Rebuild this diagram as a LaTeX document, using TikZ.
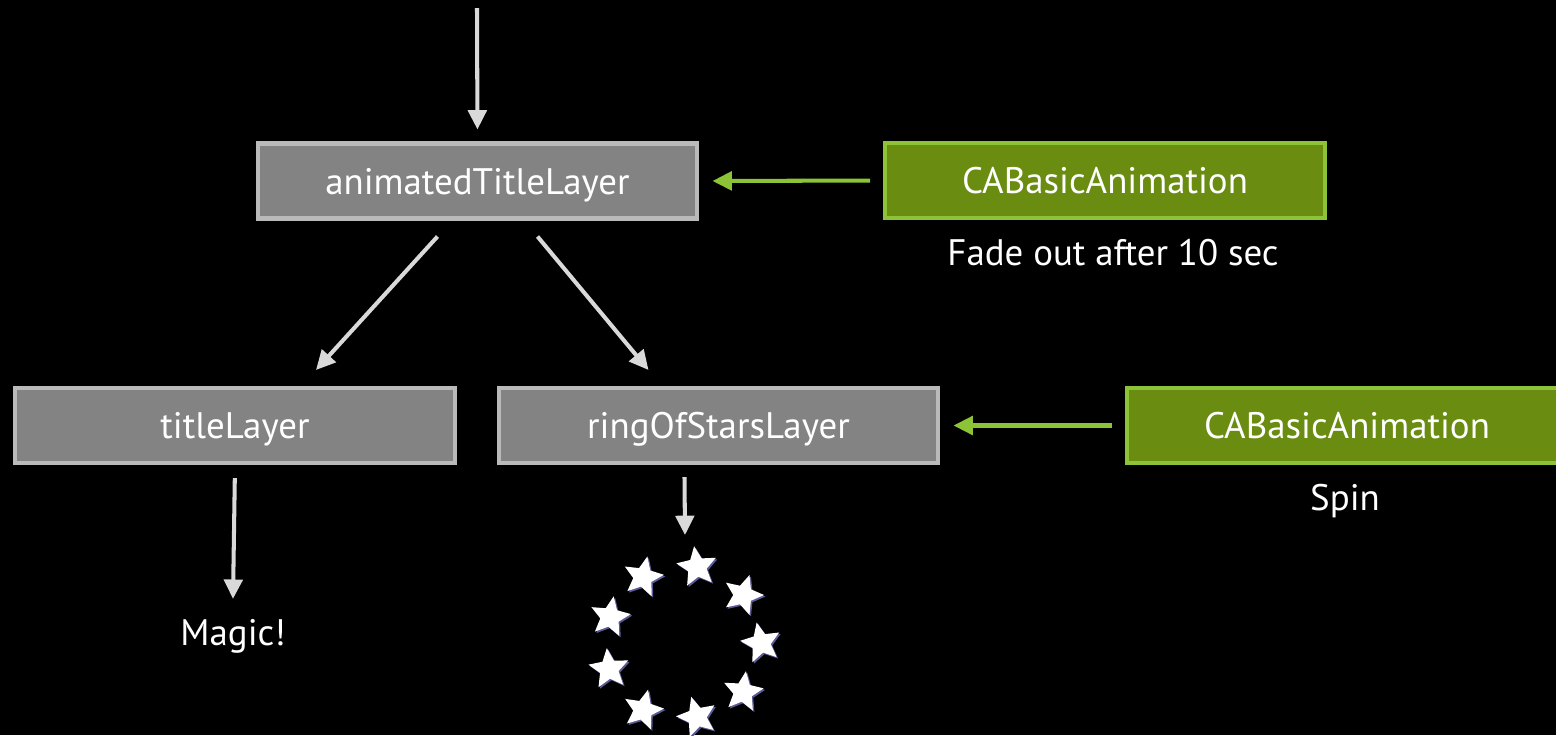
\documentclass[tikz,border=0pt]{standalone}
\usepackage{fontspec}
\setmainfont{PT Sans}
\usetikzlibrary{arrows.meta,calc,shapes.geometric}
\definecolor{layergray}{RGB}{131,131,131}
\definecolor{layeredge}{RGB}{186,186,186}
\definecolor{animgreen}{RGB}{105,140,17}
\definecolor{animedge}{RGB}{141,196,55}
\definecolor{arrowgray}{RGB}{217,217,217}
\definecolor{starshade}{RGB}{90,90,150}
\newcommand\labelfont{\fontsize{21}{25}\selectfont}
\tikzset{
  layer/.style={draw=layeredge, fill=layergray, line width=2.3pt,
    minimum width=8.8cm, minimum height=1.5cm, text=white, font=\labelfont,
    text height=19pt, text depth=4pt},
  anim/.style={layer, draw=animedge, fill=animgreen},
  note/.style={text=white, font=\labelfont},
  arr/.style={draw=arrowgray, line width=2.3pt, -{Triangle[length=11pt,width=10.5pt]}},
  garr/.style={arr, draw=animedge},
  starnode/.style={star, star points=5, star point ratio=2.15, inner sep=0pt,
    minimum size=0.84cm}
}
\begin{document}
\begin{tikzpicture}[x=0.02cm, y=-0.02cm]
    \clip (0,0) rectangle (1556,735);
    \fill[black] (0,0) rectangle (1556,735);

    \node[layer] (atl) at (477.5,181) {animatedTitleLayer};
    \node[anim] (fade) at (1105,180.5) {CABasicAnimation};
    \node[note] (fadetxt) at (1113,253) {Fade out after 10 sec};
    \node[layer] (tl) at (235,425.5) {titleLayer};
    \node[layer] (ros) at (718.5,425.5) {ringOfStarsLayer};
    \node[anim] (spin) at (1347,425.5) {CABasicAnimation};
    \node[note] (spintxt) at (1345,501) {Spin};
    \node[note] (magic) at (233,636) {Magic!};

    \coordinate (in) at (477,8);
    \coordinate (ring) at (685,643);

    \draw[arr, shorten >=0.24cm] (in) -- (atl.north);
    \draw[garr, shorten <=0.26cm, shorten >=0.26cm] (fade.west) -- (atl.east);
    \draw[arr] ($(atl.south)+(-40,16)$) -- ($(tl.north)+(81,-16)$);
    \draw[arr] ($(atl.south)+(60,16)$) -- ($(ros.north)+(-70,-16)$);
    \draw[arr, shorten <=0.26cm] (tl.south) -- ($(magic.north)+(0,-14)$);
    \draw[arr] ($(ros.south)+(-34,12)$) -- ($(ring)+(0,-108)$);
    \draw[garr, shorten <=0.26cm, shorten >=0.26cm] (spin.west) -- (ros.east);

    \foreach \sx/\sy/\rot [count=\i] in {643/577/-12, 697/567/8, 743/595/-18,
        761/643/12, 743/692/-8, 697/717/16, 643/710/-14, 609/669/6, 610/617/-10} {
        \node[starnode, fill=starshade, rotate=\rot] (sh\i) at (\sx+1.5,\sy+1.5) {};
        \node[starnode, fill=white, rotate=\rot] (s\i) at (\sx,\sy) {};
    }
\end{tikzpicture}
\end{document}
